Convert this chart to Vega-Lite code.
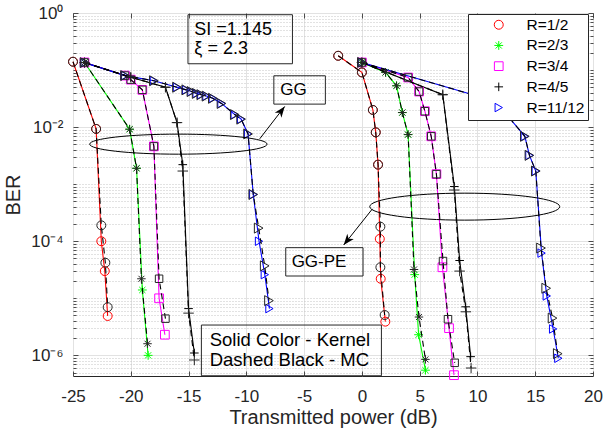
{
  "$schema": "https://vega.github.io/schema/vega-lite/v6.json",
  "width": 520,
  "height": 363,
  "autosize": {"type": "none"},
  "padding": {"left": 73, "top": 13, "right": 11, "bottom": 52},
  "background": "white",
  "config": {
    "font": "Liberation Sans",
    "view": {"stroke": "#262626", "strokeWidth": 1},
    "axis": {
      "domain": false,
      "labelFont": "Liberation Sans",
      "labelColor": "#262626",
      "labelFontSize": 17,
      "titleFont": "Liberation Sans",
      "titleFontSize": 20,
      "titleFontWeight": "normal",
      "titleColor": "#262626",
      "tickColor": "#262626",
      "tickWidth": 0.8,
      "labelFlush": false,
      "labelOverlap": false,
      "gridColor": "#e2e2e2",
      "gridWidth": 1
    },
    "legend": {
      "labelFont": "Liberation Sans",
      "labelFontSize": 15.5,
      "labelColor": "#000000",
      "padding": 3,
      "symbolOffset": 20,
      "labelOffset": 20,
      "rowPadding": 3.7,
      "strokeColor": "#262626",
      "fillColor": "white",
      "symbolStrokeWidth": 1
    }
  },
  "datasets": {
    "curves": [
      {"s":"GG","m":"Kernel","r":"R=1/2","i":1,"p":-25,"ber":0.14},
      {"s":"GG","m":"Kernel","r":"R=1/2","i":2,"p":-23,"ber":0.0093},
      {"s":"GG","m":"Kernel","r":"R=1/2","i":3,"p":-22.55,"ber":1e-4},
      {"s":"GG","m":"Kernel","r":"R=1/2","i":4,"p":-22.25,"ber":3e-5},
      {"s":"GG","m":"Kernel","r":"R=1/2","i":5,"p":-22,"ber":4.9e-6},
      {"s":"GG","m":"MC","r":"R=1/2","i":1,"p":-25,"ber":0.14},
      {"s":"GG","m":"MC","r":"R=1/2","i":2,"p":-23,"ber":0.0093},
      {"s":"GG","m":"MC","r":"R=1/2","i":3,"p":-22.55,"ber":1.9e-4},
      {"s":"GG","m":"MC","r":"R=1/2","i":4,"p":-22.2,"ber":4.2e-5},
      {"s":"GG","m":"MC","r":"R=1/2","i":5,"p":-22,"ber":7e-6},

      {"s":"GG","m":"Kernel","r":"R=2/3","i":1,"p":-24,"ber":0.136},
      {"s":"GG","m":"Kernel","r":"R=2/3","i":2,"p":-20.1,"ber":0.0092},
      {"s":"GG","m":"Kernel","r":"R=2/3","i":3,"p":-19.5,"ber":0.0019},
      {"s":"GG","m":"Kernel","r":"R=2/3","i":4,"p":-19,"ber":1.4e-5},
      {"s":"GG","m":"Kernel","r":"R=2/3","i":5,"p":-18.5,"ber":1e-6},
      {"s":"GG","m":"MC","r":"R=2/3","i":1,"p":-24,"ber":0.136},
      {"s":"GG","m":"MC","r":"R=2/3","i":2,"p":-20.1,"ber":0.0092},
      {"s":"GG","m":"MC","r":"R=2/3","i":3,"p":-19.5,"ber":0.0019},
      {"s":"GG","m":"MC","r":"R=2/3","i":4,"p":-19.08,"ber":2.2e-5},
      {"s":"GG","m":"MC","r":"R=2/3","i":5,"p":-18.55,"ber":1.6e-6},

      {"s":"GG","m":"Kernel","r":"R=3/4","i":1,"p":-24,"ber":0.136},
      {"s":"GG","m":"Kernel","r":"R=3/4","i":2,"p":-20.5,"ber":0.08},
      {"s":"GG","m":"Kernel","r":"R=3/4","i":3,"p":-20,"ber":0.068},
      {"s":"GG","m":"Kernel","r":"R=3/4","i":4,"p":-19,"ber":0.045},
      {"s":"GG","m":"Kernel","r":"R=3/4","i":5,"p":-18,"ber":0.0046},
      {"s":"GG","m":"Kernel","r":"R=3/4","i":6,"p":-17.55,"ber":1e-5},
      {"s":"GG","m":"Kernel","r":"R=3/4","i":7,"p":-17.05,"ber":2.3e-6},
      {"s":"GG","m":"MC","r":"R=3/4","i":1,"p":-24,"ber":0.136},
      {"s":"GG","m":"MC","r":"R=3/4","i":2,"p":-20.5,"ber":0.08},
      {"s":"GG","m":"MC","r":"R=3/4","i":3,"p":-20,"ber":0.068},
      {"s":"GG","m":"MC","r":"R=3/4","i":4,"p":-19,"ber":0.045},
      {"s":"GG","m":"MC","r":"R=3/4","i":5,"p":-18,"ber":0.0046},
      {"s":"GG","m":"MC","r":"R=3/4","i":6,"p":-17.55,"ber":2.2e-5},
      {"s":"GG","m":"MC","r":"R=3/4","i":7,"p":-17,"ber":4.4e-6},

      {"s":"GG","m":"Kernel","r":"R=4/5","i":1,"p":-24,"ber":0.135},
      {"s":"GG","m":"Kernel","r":"R=4/5","i":2,"p":-20,"ber":0.075},
      {"s":"GG","m":"Kernel","r":"R=4/5","i":3,"p":-17,"ber":0.05},
      {"s":"GG","m":"Kernel","r":"R=4/5","i":4,"p":-16,"ber":0.012},
      {"s":"GG","m":"Kernel","r":"R=4/5","i":5,"p":-15.5,"ber":0.0022},
      {"s":"GG","m":"Kernel","r":"R=4/5","i":6,"p":-15,"ber":6.6e-6},
      {"s":"GG","m":"Kernel","r":"R=4/5","i":7,"p":-14.5,"ber":1.1e-6},
      {"s":"GG","m":"MC","r":"R=4/5","i":1,"p":-24,"ber":0.135},
      {"s":"GG","m":"MC","r":"R=4/5","i":2,"p":-20,"ber":0.075},
      {"s":"GG","m":"MC","r":"R=4/5","i":3,"p":-17,"ber":0.05},
      {"s":"GG","m":"MC","r":"R=4/5","i":4,"p":-16,"ber":0.012},
      {"s":"GG","m":"MC","r":"R=4/5","i":5,"p":-15.5,"ber":0.0017},
      {"s":"GG","m":"MC","r":"R=4/5","i":6,"p":-15,"ber":5.5e-6},
      {"s":"GG","m":"MC","r":"R=4/5","i":7,"p":-14.5,"ber":8.3e-7},

      {"s":"GG","m":"Kernel","r":"R=11/12","i":1,"p":-24,"ber":0.135},
      {"s":"GG","m":"Kernel","r":"R=11/12","i":2,"p":-20.5,"ber":0.08},
      {"s":"GG","m":"Kernel","r":"R=11/12","i":3,"p":-18,"ber":0.065},
      {"s":"GG","m":"Kernel","r":"R=11/12","i":4,"p":-16,"ber":0.05},
      {"s":"GG","m":"Kernel","r":"R=11/12","i":5,"p":-15.2,"ber":0.045},
      {"s":"GG","m":"Kernel","r":"R=11/12","i":6,"p":-14.75,"ber":0.042},
      {"s":"GG","m":"Kernel","r":"R=11/12","i":7,"p":-14.3,"ber":0.039},
      {"s":"GG","m":"Kernel","r":"R=11/12","i":8,"p":-13.9,"ber":0.037},
      {"s":"GG","m":"Kernel","r":"R=11/12","i":9,"p":-13.45,"ber":0.035},
      {"s":"GG","m":"Kernel","r":"R=11/12","i":10,"p":-12.9,"ber":0.032},
      {"s":"GG","m":"Kernel","r":"R=11/12","i":11,"p":-12.15,"ber":0.026},
      {"s":"GG","m":"Kernel","r":"R=11/12","i":12,"p":-11,"ber":0.0166},
      {"s":"GG","m":"Kernel","r":"R=11/12","i":13,"p":-10.45,"ber":0.0138},
      {"s":"GG","m":"Kernel","r":"R=11/12","i":14,"p":-9.85,"ber":0.0076},
      {"s":"GG","m":"Kernel","r":"R=11/12","i":15,"p":-9.4,"ber":6.6e-4},
      {"s":"GG","m":"Kernel","r":"R=11/12","i":16,"p":-8.9,"ber":1e-4},
      {"s":"GG","m":"Kernel","r":"R=11/12","i":17,"p":-8.4,"ber":2.6e-5},
      {"s":"GG","m":"Kernel","r":"R=11/12","i":18,"p":-8,"ber":6.6e-6},
      {"s":"GG","m":"MC","r":"R=11/12","i":1,"p":-24,"ber":0.135},
      {"s":"GG","m":"MC","r":"R=11/12","i":2,"p":-20.5,"ber":0.08},
      {"s":"GG","m":"MC","r":"R=11/12","i":3,"p":-18,"ber":0.065},
      {"s":"GG","m":"MC","r":"R=11/12","i":4,"p":-16,"ber":0.05},
      {"s":"GG","m":"MC","r":"R=11/12","i":5,"p":-15.2,"ber":0.045},
      {"s":"GG","m":"MC","r":"R=11/12","i":6,"p":-14.75,"ber":0.042},
      {"s":"GG","m":"MC","r":"R=11/12","i":7,"p":-14.3,"ber":0.039},
      {"s":"GG","m":"MC","r":"R=11/12","i":8,"p":-13.9,"ber":0.037},
      {"s":"GG","m":"MC","r":"R=11/12","i":9,"p":-13.45,"ber":0.035},
      {"s":"GG","m":"MC","r":"R=11/12","i":10,"p":-12.9,"ber":0.032},
      {"s":"GG","m":"MC","r":"R=11/12","i":11,"p":-12.15,"ber":0.026},
      {"s":"GG","m":"MC","r":"R=11/12","i":12,"p":-11,"ber":0.0166},
      {"s":"GG","m":"MC","r":"R=11/12","i":13,"p":-10.45,"ber":0.0138},
      {"s":"GG","m":"MC","r":"R=11/12","i":14,"p":-9.85,"ber":0.0076},
      {"s":"GG","m":"MC","r":"R=11/12","i":15,"p":-9.4,"ber":6.6e-4},
      {"s":"GG","m":"MC","r":"R=11/12","i":16,"p":-8.93,"ber":1.7e-4},
      {"s":"GG","m":"MC","r":"R=11/12","i":17,"p":-8.41,"ber":3.7e-5},
      {"s":"GG","m":"MC","r":"R=11/12","i":18,"p":-8.04,"ber":9.1e-6},

      {"s":"GG-PE","m":"Kernel","r":"R=1/2","i":1,"p":-2.05,"ber":0.178},
      {"s":"GG-PE","m":"Kernel","r":"R=1/2","i":2,"p":0,"ber":0.091},
      {"s":"GG-PE","m":"Kernel","r":"R=1/2","i":3,"p":0.95,"ber":0.02},
      {"s":"GG-PE","m":"Kernel","r":"R=1/2","i":4,"p":1.2,"ber":0.0081},
      {"s":"GG-PE","m":"Kernel","r":"R=1/2","i":5,"p":1.4,"ber":0.0022},
      {"s":"GG-PE","m":"Kernel","r":"R=1/2","i":6,"p":1.55,"ber":1.1e-4},
      {"s":"GG-PE","m":"Kernel","r":"R=1/2","i":7,"p":1.63,"ber":2.2e-5},
      {"s":"GG-PE","m":"Kernel","r":"R=1/2","i":8,"p":2.03,"ber":3.9e-6},
      {"s":"GG-PE","m":"MC","r":"R=1/2","i":1,"p":-2.05,"ber":0.178},
      {"s":"GG-PE","m":"MC","r":"R=1/2","i":2,"p":0,"ber":0.091},
      {"s":"GG-PE","m":"MC","r":"R=1/2","i":3,"p":0.95,"ber":0.02},
      {"s":"GG-PE","m":"MC","r":"R=1/2","i":4,"p":1.2,"ber":0.0081},
      {"s":"GG-PE","m":"MC","r":"R=1/2","i":5,"p":1.4,"ber":0.0022},
      {"s":"GG-PE","m":"MC","r":"R=1/2","i":6,"p":1.6,"ber":1.8e-4},
      {"s":"GG-PE","m":"MC","r":"R=1/2","i":7,"p":1.6,"ber":3.5e-5},
      {"s":"GG-PE","m":"MC","r":"R=1/2","i":8,"p":1.97,"ber":5.1e-6},

      {"s":"GG-PE","m":"Kernel","r":"R=2/3","i":1,"p":0,"ber":0.136},
      {"s":"GG-PE","m":"Kernel","r":"R=2/3","i":2,"p":2.05,"ber":0.091},
      {"s":"GG-PE","m":"Kernel","r":"R=2/3","i":3,"p":3,"ber":0.053},
      {"s":"GG-PE","m":"Kernel","r":"R=2/3","i":4,"p":3.5,"ber":0.018},
      {"s":"GG-PE","m":"Kernel","r":"R=2/3","i":5,"p":4,"ber":0.0074},
      {"s":"GG-PE","m":"Kernel","r":"R=2/3","i":6,"p":4.57,"ber":2.6e-5},
      {"s":"GG-PE","m":"Kernel","r":"R=2/3","i":7,"p":4.91,"ber":2.3e-6},
      {"s":"GG-PE","m":"Kernel","r":"R=2/3","i":8,"p":5.5,"ber":5.5e-7},
      {"s":"GG-PE","m":"MC","r":"R=2/3","i":1,"p":0,"ber":0.136},
      {"s":"GG-PE","m":"MC","r":"R=2/3","i":2,"p":2.05,"ber":0.091},
      {"s":"GG-PE","m":"MC","r":"R=2/3","i":3,"p":3,"ber":0.053},
      {"s":"GG-PE","m":"MC","r":"R=2/3","i":4,"p":3.5,"ber":0.018},
      {"s":"GG-PE","m":"MC","r":"R=2/3","i":5,"p":4,"ber":0.0074},
      {"s":"GG-PE","m":"MC","r":"R=2/3","i":6,"p":4.51,"ber":3.2e-5},
      {"s":"GG-PE","m":"MC","r":"R=2/3","i":7,"p":4.94,"ber":4.7e-6},
      {"s":"GG-PE","m":"MC","r":"R=2/3","i":8,"p":5.5,"ber":8.5e-7},

      {"s":"GG-PE","m":"Kernel","r":"R=3/4","i":1,"p":0,"ber":0.136},
      {"s":"GG-PE","m":"Kernel","r":"R=3/4","i":2,"p":4,"ber":0.074},
      {"s":"GG-PE","m":"Kernel","r":"R=3/4","i":3,"p":4.95,"ber":0.042},
      {"s":"GG-PE","m":"Kernel","r":"R=3/4","i":4,"p":5.45,"ber":0.019},
      {"s":"GG-PE","m":"Kernel","r":"R=3/4","i":5,"p":6,"ber":0.0069},
      {"s":"GG-PE","m":"Kernel","r":"R=3/4","i":6,"p":6.45,"ber":0.0015},
      {"s":"GG-PE","m":"Kernel","r":"R=3/4","i":7,"p":6.97,"ber":3.5e-5},
      {"s":"GG-PE","m":"Kernel","r":"R=3/4","i":8,"p":7.54,"ber":3e-6},
      {"s":"GG-PE","m":"Kernel","r":"R=3/4","i":9,"p":7.97,"ber":4.5e-7},
      {"s":"GG-PE","m":"MC","r":"R=3/4","i":1,"p":0,"ber":0.136},
      {"s":"GG-PE","m":"MC","r":"R=3/4","i":2,"p":4,"ber":0.074},
      {"s":"GG-PE","m":"MC","r":"R=3/4","i":3,"p":4.95,"ber":0.042},
      {"s":"GG-PE","m":"MC","r":"R=3/4","i":4,"p":5.45,"ber":0.019},
      {"s":"GG-PE","m":"MC","r":"R=3/4","i":5,"p":6,"ber":0.0069},
      {"s":"GG-PE","m":"MC","r":"R=3/4","i":6,"p":6.45,"ber":0.0015},
      {"s":"GG-PE","m":"MC","r":"R=3/4","i":7,"p":7.02,"ber":4.5e-5},
      {"s":"GG-PE","m":"MC","r":"R=3/4","i":8,"p":7.45,"ber":4.3e-6},
      {"s":"GG-PE","m":"MC","r":"R=3/4","i":9,"p":8.03,"ber":7.4e-7},

      {"s":"GG-PE","m":"Kernel","r":"R=4/5","i":1,"p":0,"ber":0.136},
      {"s":"GG-PE","m":"Kernel","r":"R=4/5","i":2,"p":7,"ber":0.037},
      {"s":"GG-PE","m":"Kernel","r":"R=4/5","i":3,"p":8,"ber":9.1e-4},
      {"s":"GG-PE","m":"Kernel","r":"R=4/5","i":4,"p":8.46,"ber":4.6e-5},
      {"s":"GG-PE","m":"Kernel","r":"R=4/5","i":5,"p":8.98,"ber":7.1e-6},
      {"s":"GG-PE","m":"Kernel","r":"R=4/5","i":6,"p":9.41,"ber":9.5e-7},
      {"s":"GG-PE","m":"MC","r":"R=4/5","i":1,"p":0,"ber":0.136},
      {"s":"GG-PE","m":"MC","r":"R=4/5","i":2,"p":7,"ber":0.037},
      {"s":"GG-PE","m":"MC","r":"R=4/5","i":3,"p":8,"ber":7.9e-4},
      {"s":"GG-PE","m":"MC","r":"R=4/5","i":4,"p":8.46,"ber":3e-5},
      {"s":"GG-PE","m":"MC","r":"R=4/5","i":5,"p":9,"ber":5.8e-6},
      {"s":"GG-PE","m":"MC","r":"R=4/5","i":6,"p":9.45,"ber":6e-7},

      {"s":"GG-PE","m":"Kernel","r":"R=11/12","i":1,"p":0,"ber":0.136},
      {"s":"GG-PE","m":"Kernel","r":"R=11/12","i":2,"p":10.5,"ber":0.0326},
      {"s":"GG-PE","m":"Kernel","r":"R=11/12","i":3,"p":12,"ber":0.0222},
      {"s":"GG-PE","m":"Kernel","r":"R=11/12","i":4,"p":14.1,"ber":0.0069},
      {"s":"GG-PE","m":"Kernel","r":"R=11/12","i":5,"p":14.5,"ber":0.0032},
      {"s":"GG-PE","m":"Kernel","r":"R=11/12","i":6,"p":15.05,"ber":0.0017},
      {"s":"GG-PE","m":"Kernel","r":"R=11/12","i":7,"p":15.55,"ber":6.2e-5},
      {"s":"GG-PE","m":"Kernel","r":"R=11/12","i":8,"p":16,"ber":1.1e-5},
      {"s":"GG-PE","m":"Kernel","r":"R=11/12","i":9,"p":16.55,"ber":2.9e-6},
      {"s":"GG-PE","m":"Kernel","r":"R=11/12","i":10,"p":17,"ber":8.9e-7},
      {"s":"GG-PE","m":"MC","r":"R=11/12","i":1,"p":0,"ber":0.136},
      {"s":"GG-PE","m":"MC","r":"R=11/12","i":2,"p":10.5,"ber":0.0326},
      {"s":"GG-PE","m":"MC","r":"R=11/12","i":3,"p":12,"ber":0.0222},
      {"s":"GG-PE","m":"MC","r":"R=11/12","i":4,"p":14.1,"ber":0.0069},
      {"s":"GG-PE","m":"MC","r":"R=11/12","i":5,"p":14.5,"ber":0.0032},
      {"s":"GG-PE","m":"MC","r":"R=11/12","i":6,"p":15.05,"ber":0.0017},
      {"s":"GG-PE","m":"MC","r":"R=11/12","i":7,"p":15.5,"ber":7.6e-5},
      {"s":"GG-PE","m":"MC","r":"R=11/12","i":8,"p":15.95,"ber":1.5e-5},
      {"s":"GG-PE","m":"MC","r":"R=11/12","i":9,"p":16.5,"ber":4.5e-6},
      {"s":"GG-PE","m":"MC","r":"R=11/12","i":10,"p":16.95,"ber":1.07e-6}
    ],
    "boxes": [
      {"x1": -15.05, "x2": -6.01, "y1": 0.933, "y2": 0.129},
      {"x1": -7.62, "x2": -3.16, "y1": 0.0794, "y2": 0.0253},
      {"x1": -6.59, "x2": 0.1, "y1": 7.72e-5, "y2": 2.46e-5},
      {"x1": -13.89, "x2": 1.69, "y1": 3.4e-6, "y2": 4.39e-7}
    ],
    "notesTop": [
      {"x": -14.5, "y": 0.5, "t": "SI =1.145"},
      {"x": -14.5, "y": 0.236, "t": "ξ = 2.3"}
    ],
    "notesBottom": [
      {"x": -13.17, "y": 1.85e-6, "t": "Solid Color - Kernel"},
      {"x": -13.17, "y": 8.3e-7, "t": "Dashed Black - MC"}
    ],
    "notesCenter": [
      {"x": -5.92, "y": 0.0451, "t": "GG"},
      {"x": -3.71, "y": 4.39e-5, "t": "GG-PE"}
    ],
    "arrows": [
      {"x1": -8.84, "y1": 0.00624, "x2": -6.68, "y2": 0.023},
      {"x1": 0.91, "y1": 3.69e-4, "x2": -1.575, "y2": 8.6e-5}
    ],
    "ellipseGG": [{"x": -15.88, "y": 0.00503}],
    "ellipsePE": [{"x": 8.9, "y": 4.04e-4}],
    "tipGG": [{"x": -6.68, "y": 0.023}],
    "tipPE": [{"x": -1.575, "y": 8.6e-5}]
  },
  "resolve": {"axis": {"x": "independent", "y": "independent"}},
  "layer": [
    {
      "data": {"name": "curves"},
      "transform": [{"filter": "datum.m == 'Kernel'"}],
      "mark": {"type": "line", "strokeWidth": 1.1, "clip": false},
      "encoding": {
        "x": {
          "field": "p", "type": "quantitative",
          "scale": {"domain": [-25, 20], "nice": false, "zero": false},
          "axis": {
            "orient": "bottom",
            "values": [-25, -20, -15, -10, -5, 0, 5, 10, 15, 20],
            "title": "Transmitted power (dB)",
            "grid": true,
            "tickSize": -5,
            "labelPadding": 17,
            "titlePadding": 3,
            "labelExpr": "'' + datum.value"
          }
        },
        "y": {
          "field": "ber", "type": "quantitative",
          "scale": {"type": "log", "domain": [4.35e-7, 1], "nice": false},
          "axis": {
            "orient": "left",
            "values": [5e-7, 6e-7, 7e-7, 8e-7, 9e-7, 1e-6, 2e-6, 3e-6, 4e-6, 5e-6, 6e-6, 7e-6, 8e-6, 9e-6, 1e-5, 2e-5, 3e-5, 4e-5, 5e-5, 6e-5, 7e-5, 8e-5, 9e-5, 1e-4, 2e-4, 3e-4, 4e-4, 5e-4, 6e-4, 7e-4, 8e-4, 9e-4, 1e-3, 2e-3, 3e-3, 4e-3, 5e-3, 6e-3, 7e-3, 8e-3, 9e-3, 0.01, 0.02, 0.03, 0.04, 0.05, 0.06, 0.07, 0.08, 0.09, 0.1, 0.2, 0.3, 0.4, 0.5, 0.6, 0.7, 0.8, 0.9, 1],
            "title": "BER",
            "grid": true,
            "gridColor": {"condition": {"test": "abs(log(datum.value)/LN10 - round(log(datum.value)/LN10)) < 0.001 && round(log(datum.value)/LN10) % 2 == 0", "value": "#e2e2e2"}, "value": "#c4c4c4"},
            "gridDash": {"condition": {"test": "abs(log(datum.value)/LN10 - round(log(datum.value)/LN10)) < 0.001 && round(log(datum.value)/LN10) % 2 == 0", "value": []}, "value": [1, 2]},
            "tickSize": {"condition": {"test": "abs(log(datum.value)/LN10 - round(log(datum.value)/LN10)) < 0.001 && round(log(datum.value)/LN10) % 2 == 0", "value": -5}, "value": -3},
            "labelPadding": 15,
            "titlePadding": 7,
            "labelExpr": "abs(log(datum.value)/LN10 - round(log(datum.value)/LN10)) > 0.001 ? '' : round(log(datum.value)/LN10) == 0 ? '10⁰' : round(log(datum.value)/LN10) == -2 ? '10⁻²' : round(log(datum.value)/LN10) == -4 ? '10⁻⁴' : round(log(datum.value)/LN10) == -6 ? '10⁻⁶' : ''"
          }
        },
        "stroke": {
          "field": "r", "type": "nominal",
          "scale": {"domain": ["R=11/12", "R=4/5", "R=3/4", "R=2/3", "R=1/2"], "range": ["#0000ff", "#000000", "#ff00ff", "#00ff00", "#ff0000"]},
          "legend": null
        },
        "detail": {"field": "s"},
        "order": {"field": "i"}
      }
    },
    {
      "data": {"name": "curves"},
      "transform": [{"filter": "datum.m == 'Kernel'"}],
      "mark": {"type": "point", "filled": false, "opacity": 1, "strokeWidth": 1, "clip": false},
      "encoding": {
        "x": {"field": "p", "type": "quantitative", "axis": null},
        "y": {"field": "ber", "type": "quantitative", "axis": null},
        "color": {
          "field": "r", "type": "nominal",
          "scale": {"domain": ["R=1/2", "R=2/3", "R=3/4", "R=4/5", "R=11/12"], "range": ["#ff0000", "#00ff00", "#ff00ff", "#000000", "#0000ff"]},
          "legend": {"title": null, "orient": "none", "legendX": 395, "legendY": 1}
        },
        "shape": {
          "field": "r", "type": "nominal",
          "scale": {"domain": ["R=1/2", "R=2/3", "R=3/4", "R=4/5", "R=11/12"], "range": ["circle", "M-1,0L1,0M0,-1L0,1M-0.7,-0.7L0.7,0.7M-0.7,0.7L0.7,-0.7", "square", "M-1,0L1,0M0,-1L0,1", "triangle-right"]}
        },
        "size": {
          "field": "r", "type": "ordinal",
          "scale": {"domain": ["R=1/2", "R=2/3", "R=3/4", "R=4/5", "R=11/12"], "range": [80, 72, 56, 110, 100]}
        }
      }
    },
    {
      "data": {"name": "curves"},
      "transform": [{"filter": "datum.m == 'MC'"}],
      "mark": {"type": "line", "strokeWidth": 1.1, "color": "#000000", "strokeDash": [6, 4], "clip": false},
      "encoding": {
        "x": {
          "field": "p", "type": "quantitative",
          "axis": {
            "orient": "top",
            "values": [-25, -20, -15, -10, -5, 0, 5, 10, 15, 20],
            "labels": false, "grid": false, "title": null, "tickSize": -5
          }
        },
        "y": {
          "field": "ber", "type": "quantitative",
          "axis": {
            "orient": "right",
            "values": [5e-7, 6e-7, 7e-7, 8e-7, 9e-7, 1e-6, 2e-6, 3e-6, 4e-6, 5e-6, 6e-6, 7e-6, 8e-6, 9e-6, 1e-5, 2e-5, 3e-5, 4e-5, 5e-5, 6e-5, 7e-5, 8e-5, 9e-5, 1e-4, 2e-4, 3e-4, 4e-4, 5e-4, 6e-4, 7e-4, 8e-4, 9e-4, 1e-3, 2e-3, 3e-3, 4e-3, 5e-3, 6e-3, 7e-3, 8e-3, 9e-3, 0.01, 0.02, 0.03, 0.04, 0.05, 0.06, 0.07, 0.08, 0.09, 0.1, 0.2, 0.3, 0.4, 0.5, 0.6, 0.7, 0.8, 0.9, 1],
            "labels": false, "grid": false, "title": null,
            "tickSize": {"condition": {"test": "abs(log(datum.value)/LN10 - round(log(datum.value)/LN10)) < 0.001 && round(log(datum.value)/LN10) % 2 == 0", "value": -5}, "value": -3}
          }
        },
        "detail": [{"field": "s"}, {"field": "r"}],
        "order": {"field": "i"}
      }
    },
    {
      "data": {"name": "curves"},
      "transform": [{"filter": "datum.m == 'MC' && datum.r == 'R=1/2'"}],
      "mark": {"type": "point", "shape": "circle", "size": 80, "filled": false, "opacity": 1, "strokeWidth": 1, "color": "#262626", "clip": false},
      "encoding": {
        "x": {"field": "p", "type": "quantitative", "axis": null},
        "y": {"field": "ber", "type": "quantitative", "axis": null}
      }
    },
    {
      "data": {"name": "curves"},
      "transform": [{"filter": "datum.m == 'MC' && datum.r == 'R=2/3'"}],
      "mark": {"type": "point", "shape": "M-1,0L1,0M0,-1L0,1M-0.7,-0.7L0.7,0.7M-0.7,0.7L0.7,-0.7", "size": 72, "filled": false, "opacity": 1, "strokeWidth": 1, "color": "#262626", "clip": false},
      "encoding": {
        "x": {"field": "p", "type": "quantitative", "axis": null},
        "y": {"field": "ber", "type": "quantitative", "axis": null}
      }
    },
    {
      "data": {"name": "curves"},
      "transform": [{"filter": "datum.m == 'MC' && datum.r == 'R=3/4'"}],
      "mark": {"type": "point", "shape": "square", "size": 56, "filled": false, "opacity": 1, "strokeWidth": 1, "color": "#262626", "clip": false},
      "encoding": {
        "x": {"field": "p", "type": "quantitative", "axis": null},
        "y": {"field": "ber", "type": "quantitative", "axis": null}
      }
    },
    {
      "data": {"name": "curves"},
      "transform": [{"filter": "datum.m == 'MC' && datum.r == 'R=4/5'"}],
      "mark": {"type": "point", "shape": "M-1,0L1,0M0,-1L0,1", "size": 110, "filled": false, "opacity": 1, "strokeWidth": 1, "color": "#262626", "clip": false},
      "encoding": {
        "x": {"field": "p", "type": "quantitative", "axis": null},
        "y": {"field": "ber", "type": "quantitative", "axis": null}
      }
    },
    {
      "data": {"name": "curves"},
      "transform": [{"filter": "datum.m == 'MC' && datum.r == 'R=11/12'"}],
      "mark": {"type": "point", "shape": "triangle-right", "size": 100, "filled": false, "opacity": 1, "strokeWidth": 1, "color": "#262626", "clip": false},
      "encoding": {
        "x": {"field": "p", "type": "quantitative", "axis": null},
        "y": {"field": "ber", "type": "quantitative", "axis": null}
      }
    },
    {
      "data": {"name": "boxes"},
      "mark": {"type": "rect", "fillOpacity": 0, "fill": "white", "stroke": "#262626", "strokeWidth": 1, "clip": false},
      "encoding": {
        "x": {"field": "x1", "type": "quantitative", "axis": null},
        "x2": {"field": "x2"},
        "y": {"field": "y1", "type": "quantitative", "axis": null},
        "y2": {"field": "y2"}
      }
    },
    {
      "data": {"name": "notesTop"},
      "mark": {"type": "text", "align": "left", "baseline": "middle", "font": "Liberation Sans", "fontSize": 18, "color": "#000000"},
      "encoding": {
        "x": {"field": "x", "type": "quantitative", "axis": null},
        "y": {"field": "y", "type": "quantitative", "axis": null},
        "text": {"field": "t"}
      }
    },
    {
      "data": {"name": "notesBottom"},
      "mark": {"type": "text", "align": "left", "baseline": "middle", "font": "Liberation Sans", "fontSize": 18.5, "color": "#000000"},
      "encoding": {
        "x": {"field": "x", "type": "quantitative", "axis": null},
        "y": {"field": "y", "type": "quantitative", "axis": null},
        "text": {"field": "t"}
      }
    },
    {
      "data": {"name": "notesCenter"},
      "mark": {"type": "text", "align": "center", "baseline": "middle", "font": "Liberation Sans", "fontSize": 17, "color": "#000000"},
      "encoding": {
        "x": {"field": "x", "type": "quantitative", "axis": null},
        "y": {"field": "y", "type": "quantitative", "axis": null},
        "text": {"field": "t"}
      }
    },
    {
      "data": {"name": "ellipseGG"},
      "mark": {"type": "point", "filled": false, "opacity": 1, "stroke": "#000000", "strokeWidth": 1, "size": 31470, "shape": "M-1,0C-1,-0.0624,-0.5523,-0.113,0,-0.113C0.5523,-0.113,1,-0.0624,1,0C1,0.0624,0.5523,0.113,0,0.113C-0.5523,0.113,-1,0.0624,-1,0Z"},
      "encoding": {
        "x": {"field": "x", "type": "quantitative", "axis": null},
        "y": {"field": "y", "type": "quantitative", "axis": null}
      }
    },
    {
      "data": {"name": "ellipsePE"},
      "mark": {"type": "point", "filled": false, "opacity": 1, "stroke": "#000000", "strokeWidth": 1, "size": 36100, "shape": "M-1,0C-1,-0.0784,-0.5523,-0.142,0,-0.142C0.5523,-0.142,1,-0.0784,1,0C1,0.0784,0.5523,0.142,0,0.142C-0.5523,0.142,-1,0.0784,-1,0Z"},
      "encoding": {
        "x": {"field": "x", "type": "quantitative", "axis": null},
        "y": {"field": "y", "type": "quantitative", "axis": null}
      }
    },
    {
      "data": {"name": "arrows"},
      "mark": {"type": "rule", "color": "#000000", "strokeWidth": 1},
      "encoding": {
        "x": {"field": "x1", "type": "quantitative", "axis": null},
        "y": {"field": "y1", "type": "quantitative", "axis": null},
        "x2": {"field": "x2"},
        "y2": {"field": "y2"}
      }
    },
    {
      "data": {"name": "tipGG"},
      "mark": {"type": "point", "filled": true, "opacity": 1, "color": "#000000", "size": 484, "angle": 37, "shape": "M0,0L-0.38,1L0,0.72L0.38,1Z"},
      "encoding": {
        "x": {"field": "x", "type": "quantitative", "axis": null},
        "y": {"field": "y", "type": "quantitative", "axis": null}
      }
    },
    {
      "data": {"name": "tipPE"},
      "mark": {"type": "point", "filled": true, "opacity": 1, "color": "#000000", "size": 484, "angle": 218.6, "shape": "M0,0L-0.38,1L0,0.72L0.38,1Z"},
      "encoding": {
        "x": {"field": "x", "type": "quantitative", "axis": null},
        "y": {"field": "y", "type": "quantitative", "axis": null}
      }
    }
  ]
}
